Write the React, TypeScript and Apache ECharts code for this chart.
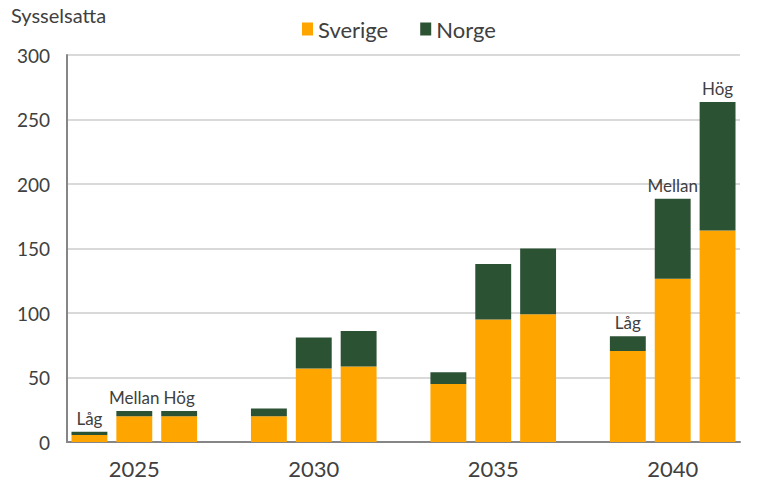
import React, { useEffect, useRef } from "react";
import * as echarts from "echarts";

const years = ["2025", "2030", "2035", "2040"];
const scenarios = ["Låg", "Mellan", "Hög"];
const labeledYears = ["2025", "2040"];
const seriesNames = ["Sverige", "Norge"];
const sverige = [5.5, 20, 20, 20, 57, 58.5, 45, 95, 99, 70.5, 126.5, 164];
const norge = [2.5, 4, 4, 6, 24, 27.5, 9, 43, 51, 11.5, 62, 99.5];
const yTicks = [0, 50, 100, 150, 200, 250, 300];
const colors = ["#FFA500", "#2C5234"];
const yTitle = "Sysselsatta";

const FONT = "Lato, 'Noto Sans', sans-serif";
const TEXT = "#404040";

export default function App() {
  const ref = useRef<HTMLDivElement>(null);
  useEffect(() => {
    document.body.style.margin = "0";
    if (!ref.current) return;
    const chart = echarts.init(ref.current, null, { renderer: "svg" });

    const cats: { key: string; year: string; scen: string }[] = [];
    const idx: number[] = [];
    years.forEach((y, yi) => {
      scenarios.forEach((s) => {
        idx.push(cats.length);
        cats.push({ key: y + "-" + s, year: y, scen: s });
      });
      if (yi < years.length - 1) cats.push({ key: "gap" + yi, year: "", scen: "" });
    });

    const sv: any[] = cats.map(() => null);
    const no: any[] = cats.map(() => null);
    idx.forEach((slot, i) => {
      const c = cats[slot];
      sv[slot] = sverige[i];
      const showLab = labeledYears.includes(c.year);
      no[slot] = showLab
        ? { value: norge[i], label: { show: true, formatter: c.scen } }
        : norge[i];
    });

    chart.setOption({
      animation: false,
      textStyle: { fontFamily: FONT },
      title: {
        text: yTitle,
        left: 6,
        top: 0,
        textStyle: { fontFamily: FONT, fontSize: 20, fontWeight: "normal", color: TEXT },
      },
      legend: {
        data: seriesNames,
        left: 297,
        top: 13,
        itemWidth: 11,
        itemHeight: 13,
        itemGap: 32,
        icon: "rect",
        textStyle: { fontFamily: FONT, fontSize: 22, color: TEXT, padding: [0, 0, 0, 0] },
      },
      grid: { left: 67, right: 28, top: 55, bottom: 61, containLabel: false },
      xAxis: {
        type: "category",
        data: cats.map((c) => c.key),
        axisLine: { show: true, lineStyle: { color: "#868686", width: 2 } },
        axisTick: { show: false },
        axisLabel: {
          interval: 0,
          margin: 15,
          fontFamily: FONT,
          fontSize: 22,
          color: TEXT,
          formatter: (v: string) => {
            const c = cats.find((x) => x.key === v);
            return c && c.scen === scenarios[1] ? c.year : "";
          },
        },
      },
      yAxis: {
        type: "value",
        min: yTicks[0],
        max: yTicks[yTicks.length - 1],
        interval: yTicks[1] - yTicks[0],
        axisLine: { show: true, lineStyle: { color: "#868686", width: 2 } },
        axisTick: { show: false },
        splitLine: { lineStyle: { color: "#D9D9D9", width: 2 } },
        axisLabel: { fontFamily: FONT, fontSize: 19, color: TEXT, margin: 17 },
      },
      series: [
        {
          name: seriesNames[0],
          type: "bar",
          stack: "total",
          barCategoryGap: "20%",
          itemStyle: { color: colors[0] },
          data: sv,
        },
        {
          name: seriesNames[1],
          type: "bar",
          stack: "total",
          barCategoryGap: "20%",
          itemStyle: { color: colors[1] },
          label: {
            show: false,
            position: "top",
            distance: 5,
            fontFamily: FONT,
            fontSize: 17,
            color: TEXT,
          },
          data: no,
        },
      ],
    });
    return () => chart.dispose();
  }, []);
  return <div ref={ref} style={{ width: 768, height: 503 }} />;
}
